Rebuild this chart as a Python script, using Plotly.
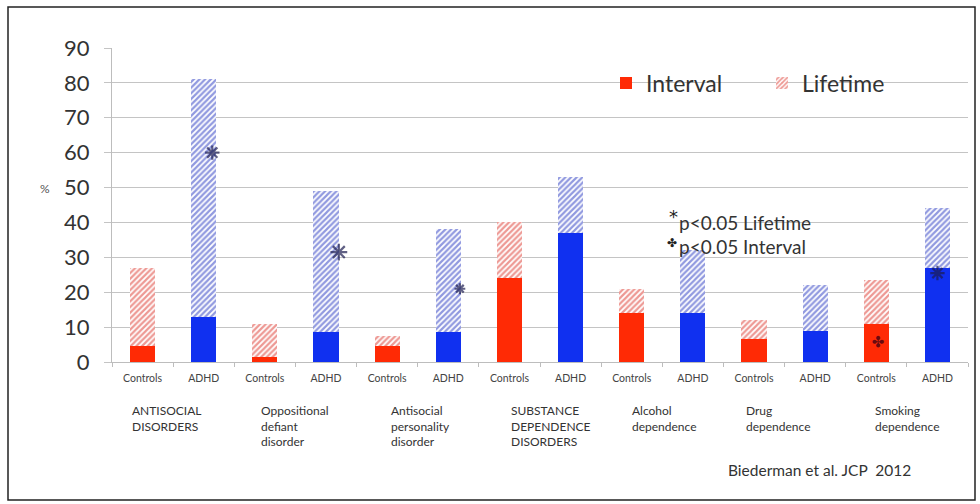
import plotly.graph_objects as go

# Prevalence (%) of disorders in Controls vs ADHD groups
groups = ["Controls", "ADHD"] * 7
interval = [4.5, 13, 1.5, 8.5, 4.5, 8.5, 24, 37, 14, 14, 6.5, 9, 11, 27]
lifetime = [27, 81, 11, 49, 7.5, 38, 40, 53, 21, 32, 12, 22, 23.5, 44]
group_labels = [
    "ANTISOCIAL<br>DISORDERS",
    "Oppositional<br>defiant<br>disorder",
    "Antisocial<br>personality<br>disorder",
    "SUBSTANCE<br>DEPENDENCE<br>DISORDERS",
    "Alcohol<br>dependence",
    "Drug<br>dependence",
    "Smoking<br>dependence",
]
group_label_x = [-0.21, 1.90, 4.03, 6.0, 7.98, 9.84, 11.95]
y_ticks = [0, 10, 20, 30, 40, 50, 60, 70, 80, 90]

# Significance markers (bar position, value, size)
lifetime_sig_x = [1.14, 3.21, 5.19, 13.0]
lifetime_sig_y = [60, 31.5, 21, 25.5]
lifetime_sig_size = [12, 14, 9, 12]
interval_sig_x = [12.03]
interval_sig_y = [5.5]

RED = "#ff2a05"
BLUE = "#1030f0"
RED_HATCH = "#dc3228"
BLUE_HATCH = "#2233c0"
STAR = "#1c1c50"

x = list(range(len(groups)))
is_ctrl = [g == "Controls" for g in groups]
extra = [lt - iv for lt, iv in zip(lifetime, interval)]

fig = go.Figure()

for ctrl, solid, show in [(True, RED, True), (False, BLUE, False)]:
    idx = [i for i in x if is_ctrl[i] == ctrl]
    fig.add_trace(go.Bar(
        x=idx, y=[interval[i] for i in idx], name="Interval",
        marker=dict(color=solid, line=dict(width=0)),
        showlegend=show, legend="legend", width=0.41,
    ))
for ctrl, hatch, show in [(True, RED_HATCH, True), (False, BLUE_HATCH, False)]:
    idx = [i for i in x if is_ctrl[i] == ctrl]
    fig.add_trace(go.Bar(
        x=idx, y=[extra[i] for i in idx], name="Lifetime",
        marker=dict(color="white", line=dict(width=0),
                    pattern=dict(shape="/", fgcolor=hatch, bgcolor="white",
                                 size=4, solidity=0.55)),
        showlegend=show, legend="legend2", width=0.41,
    ))

fig.add_trace(go.Scatter(
    x=lifetime_sig_x, y=lifetime_sig_y, mode="markers", showlegend=False,
    marker=dict(symbol="asterisk-open", size=lifetime_sig_size, color=STAR,
                line=dict(color=STAR, width=2.2)),
    hoverinfo="skip",
))
fig.add_trace(go.Scatter(
    x=interval_sig_x, y=interval_sig_y, mode="text", showlegend=False,
    text=["✤"], textfont=dict(family="DejaVu Sans", size=15, color="#6a0a10"),
    hoverinfo="skip",
))

FONT = "Lato"
L, R, T, B = 112, 12, 48, 142
W, H = 980, 504
PW, PH = W - L - R, H - T - B


def px_x(p):
    return (p - L) / PW


def px_y(p):
    return (H - B - p) / PH


annotations = []
for lab, gx in zip(group_labels, group_label_x):
    annotations.append(dict(
        x=gx, xref="x", y=px_y(401), yref="paper", text=lab, showarrow=False,
        xanchor="left", yanchor="top", align="left",
        font=dict(family=FONT, size=12, color="#333333"),
    ))
annotations += [
    dict(x=px_x(38), y=px_y(188), xref="paper", yref="paper", text="%",
         showarrow=False, font=dict(family=FONT, size=12, color="#555555")),
    dict(x=px_x(673), y=px_y(216), xref="paper", yref="paper", text="*",
         showarrow=False, font=dict(family="DejaVu Sans", size=18, color="#222222")),
    dict(x=px_x(677), y=px_y(222), xref="paper", yref="paper",
         text="p&lt;0.05 Lifetime", showarrow=False, xanchor="left",
         font=dict(family=FONT, size=19, color="#333333")),
    dict(x=px_x(672), y=px_y(243), xref="paper", yref="paper", text="✤",
         showarrow=False, font=dict(family="DejaVu Sans", size=12, color="#222222")),
    dict(x=px_x(677), y=px_y(246), xref="paper", yref="paper",
         text="p&lt;0.05 Interval", showarrow=False, xanchor="left",
         font=dict(family=FONT, size=19, color="#333333")),
    dict(x=px_x(726), y=px_y(481), xref="paper", yref="paper",
         text="Biederman et al. JCP&nbsp;&nbsp;2012", showarrow=False, xanchor="left",
         font=dict(family=FONT, size=15.5, color="#333333")),
]

fig.update_layout(
    width=W, height=H,
    margin=dict(l=L, r=R, t=T, b=B),
    paper_bgcolor="white", plot_bgcolor="white",
    barmode="stack",
    annotations=annotations,
    shapes=[
        dict(type="rect", xref="paper", yref="paper",
             x0=px_x(8), x1=px_x(975), y0=px_y(500), y1=px_y(7),
             line=dict(color="#222222", width=1.5)),
        # white panel behind the legend, hiding the gridline
        dict(type="rect", xref="paper", yref="paper", layer="between",
             x0=px_x(613), x1=px_x(905), y0=px_y(97), y1=px_y(69),
             fillcolor="white", line=dict(width=0)),
    ],
    legend=dict(x=px_x(606), y=px_y(83), xanchor="left", yanchor="middle",
                orientation="h", bgcolor="rgba(0,0,0,0)",
                font=dict(family=FONT, size=23, color="#333333")),
    legend2=dict(x=px_x(762), y=px_y(83), xanchor="left", yanchor="middle",
                 orientation="h", bgcolor="rgba(0,0,0,0)",
                 font=dict(family=FONT, size=23, color="#333333")),
    xaxis=dict(
        range=[-0.5, 13.5], tickmode="array", tickvals=x, ticktext=groups,
        ticks="", showgrid=False, zeroline=False,
        showline=True, linecolor="#bdbdbd", linewidth=1.2,
        ticklabelstandoff=6,
        tickfont=dict(family=FONT, size=10.5, color="#444444"),
        minor=dict(tick0=0.5, dtick=1, ticks="outside", ticklen=4,
                   tickcolor="#bdbdbd", showgrid=False),
    ),
    yaxis=dict(
        range=[0, 90], tickvals=y_ticks, showgrid=True, gridcolor="#c4c4c4",
        gridwidth=1.3, zeroline=False, showline=True, linecolor="#bdbdbd",
        linewidth=1.2, ticks="outside", ticklen=7, tickcolor="#c4c4c4",
        ticklabelstandoff=10,
        tickfont=dict(family=FONT, size=22, color="#333333"),
    ),
)

fig.write_html("out.html")
